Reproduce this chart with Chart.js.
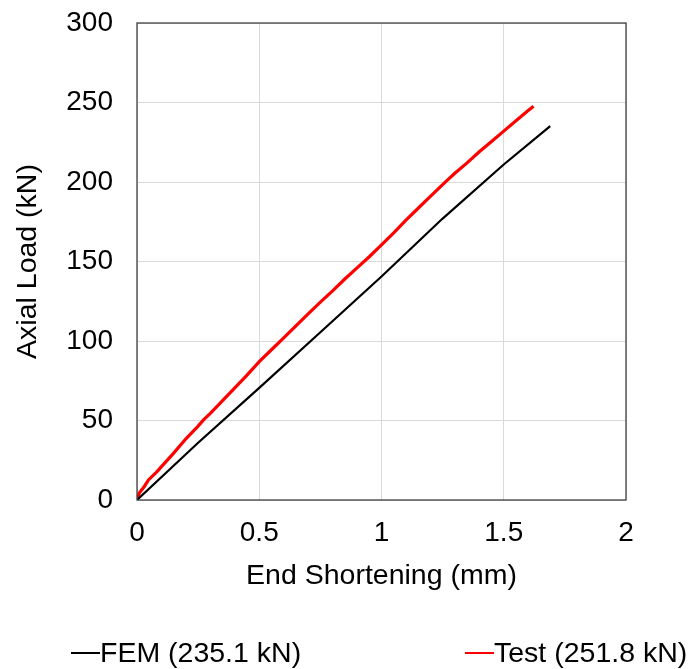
<!DOCTYPE html>
<html>
<head>
<meta charset="utf-8">
<script src="https://cdn.jsdelivr.net/npm/chart.js@4"></script>
<style>
  html, body { margin: 0; padding: 0; background: #fff; }
</style>
</head>
<body>
<canvas id="chart" width="691" height="669"></canvas>
<script>
// FEM curve (end shortening mm, load kN)
const femX = [0, 0.25, 0.5, 0.75, 1.0, 1.25, 1.5, 1.69];
const femY = [0, 36, 70.5, 105.5, 140.6, 177, 211, 235.1];

// Test curve
const testX = [0, 0.005, 0.01, 0.03, 0.047, 0.08, 0.1, 0.15, 0.2, 0.25, 0.272, 0.3, 0.35, 0.4, 0.45, 0.5,
  0.55, 0.6, 0.65, 0.7, 0.75, 0.8, 0.85, 0.9, 0.95, 1.0, 1.05, 1.1, 1.15, 1.2, 1.265, 1.3, 1.35,
  1.4, 1.45, 1.5, 1.55, 1.6, 1.622];
const testY = [0, 2.5, 4.5, 8.5, 12.6, 17.5, 21, 29.5, 38.5, 46.5, 50.4, 54.5, 62.5, 70.5, 78.5, 87,
  94.5, 102, 109.5, 117, 124.5, 131.5, 139, 146, 153, 160.5, 168, 176, 183.5, 191, 200.5, 205.5, 212,
  219, 225.5, 232, 238.5, 245, 247.7];

const seriesNames = ["FEM (235.1 kN)", "Test (251.8 kN)"];
const xTicks = [0, 0.5, 1, 1.5, 2];
const yTicks = [0, 50, 100, 150, 200, 250, 300];

const FONT = "'Liberation Sans', Arial, sans-serif";
const FS = 28.5;

// border round the plot area + legend at the bottom
const framePlugin = {
  id: "frame",
  afterDatasetsDraw(chart) {
    const { ctx, chartArea: a } = chart;
    ctx.save();
    ctx.strokeStyle = "#404040";
    ctx.lineWidth = 1.3;
    ctx.strokeRect(a.left, a.top, a.right - a.left, a.bottom - a.top);
    ctx.restore();
  },
  afterDraw(chart) {
    const { ctx } = chart;
    const spots = [71, 465];
    ctx.save();
    ctx.font = FS + "px " + FONT;
    ctx.textBaseline = "middle";
    chart.data.datasets.forEach((ds, i) => {
      const x = spots[i], y = 653;
      ctx.strokeStyle = ds.borderColor;
      ctx.lineWidth = 2;
      ctx.beginPath();
      ctx.moveTo(x, y);
      ctx.lineTo(x + 29, y);
      ctx.stroke();
      ctx.fillStyle = "#000";
      ctx.fillText(ds.label, x + 29, y + 1);
    });
    ctx.restore();
  },
};

new Chart(document.getElementById("chart"), {
  type: "scatter",
  data: {
    datasets: [
      {
        label: seriesNames[0],
        data: femX.map((x, i) => ({ x: x, y: femY[i] })),
        showLine: true,
        borderColor: "#000000",
        borderWidth: 2.2,
        pointRadius: 0,
        tension: 0,
      },
      {
        label: seriesNames[1],
        data: testX.map((x, i) => ({ x: x, y: testY[i] })),
        showLine: true,
        borderColor: "#ff0000",
        borderWidth: 3.2,
        pointRadius: 0,
        tension: 0,
      },
    ],
  },
  options: {
    responsive: false,
    animation: false,
    layout: { padding: { left: 0, right: 65, top: 23, bottom: 69 } },
    plugins: {
      legend: { display: false },
      tooltip: { enabled: false },
    },
    scales: {
      x: {
        type: "linear",
        min: 0,
        max: 2,
        afterBuildTicks: (s) => { s.ticks = xTicks.map((v) => ({ value: v })); },
        afterFit: (s) => { s.height = 100; },
        grid: { color: "#d9d9d9", lineWidth: 1, drawTicks: false },
        border: { display: false },
        ticks: {
          color: "#000",
          padding: 16,
          font: { family: FONT, size: 28 },
          callback: (v) => String(v),
        },
        title: {
          display: true,
          text: "End Shortening (mm)",
          color: "#000",
          padding: { top: 0, bottom: 7 },
          font: { family: FONT, size: FS },
        },
      },
      y: {
        type: "linear",
        min: 0,
        max: 300,
        afterBuildTicks: (s) => { s.ticks = yTicks.map((v) => ({ value: v })); },
        afterFit: (s) => {
          s.width = 137;
          s.paddingTop = 0;
          s.paddingBottom = 0;
        },
        grid: { color: "#d9d9d9", lineWidth: 1, drawTicks: false },
        border: { display: false },
        ticks: {
          color: "#000",
          padding: 24,
          font: { family: FONT, size: 28 },
        },
        title: {
          display: true,
          text: "Axial Load (kN)",
          color: "#000",
          padding: { top: 11, bottom: 0 },
          font: { family: FONT, size: FS },
        },
      },
    },
  },
  plugins: [framePlugin],
});
</script>
</body>
</html>
